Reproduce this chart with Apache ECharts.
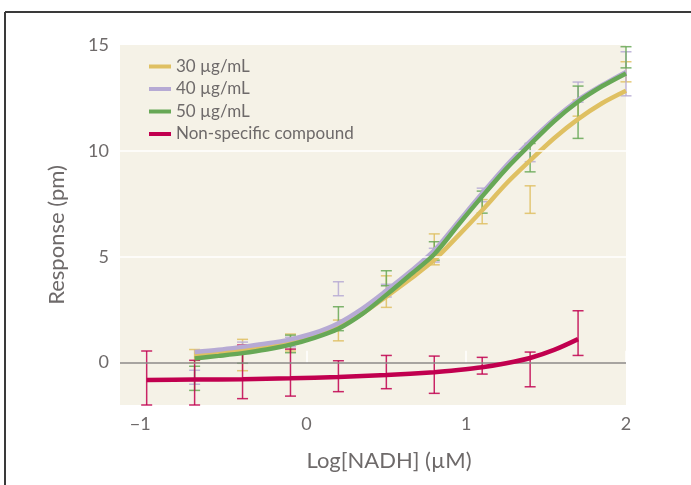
<!DOCTYPE html>
<html>
<head>
<meta charset="utf-8">
<script src="https://cdn.jsdelivr.net/npm/echarts@6/dist/echarts.min.js"></script>
<style>
html,body{margin:0;padding:0;background:#fff;}
#c{width:691px;height:485px;}
</style>
</head>
<body>
<div id="c"></div>
<script>
// ---- data ----
const seriesNames = ['30 µg/mL', '40 µg/mL', '50 µg/mL', 'Non-specific compound'];

// fitted curves
const xFit = [-0.7, -0.55, -0.4, -0.25, -0.1, 0.05, 0.2, 0.35, 0.5, 0.65, 0.8, 0.95, 1.1, 1.25, 1.4, 1.55, 1.7, 1.85, 2.0];
const fit30 = [0.36, 0.47, 0.60, 0.76, 0.95, 1.25, 1.68, 2.32, 3.12, 3.95, 4.85, 6.00, 7.20, 8.45, 9.55, 10.60, 11.50, 12.25, 12.84];
const fit40 = [0.50, 0.61, 0.75, 0.90, 1.10, 1.40, 1.86, 2.55, 3.40, 4.30, 5.30, 6.65, 8.00, 9.30, 10.45, 11.50, 12.40, 13.10, 13.73];
const fit50 = [0.20, 0.32, 0.45, 0.62, 0.85, 1.17, 1.60, 2.30, 3.20, 4.15, 5.12, 6.50, 7.85, 9.15, 10.30, 11.40, 12.32, 13.05, 13.66];
const xFitRed = [-1, -0.7, -0.4, -0.1, 0.2, 0.5, 0.8, 0.95, 1.1, 1.25, 1.4, 1.55, 1.7];
const fitRed = [-0.82, -0.80, -0.78, -0.74, -0.68, -0.58, -0.45, -0.35, -0.22, -0.03, 0.22, 0.60, 1.11];

// measured points: x positions and error bars [low, high]
const xPts = [-0.7, -0.4, -0.1, 0.2, 0.5, 0.8, 1.1, 1.4, 1.7, 2.0];
const xRed = [-1, -0.7, -0.4, -0.1, 0.2, 0.5, 0.8, 1.1, 1.4, 1.7];
const err30 = [[0.0,0.62],[-0.38,1.10],[0.55,1.35],[1.03,2.01],[2.61,4.10],[4.62,6.08],[6.56,7.70],[7.05,8.35],[11.64,12.40],[13.26,14.21]];
const err40 = [[-1.02,-0.36],[0.60,0.97],[0.75,1.20],[3.16,3.82],[3.10,3.70],[4.75,5.40],[7.60,8.24],[9.49,10.00],[12.30,13.25],[12.60,14.68]];
const err50 = [[-1.31,-0.17],[-0.03,0.63],[0.47,1.30],[1.51,2.64],[3.63,4.34],[4.84,5.71],[7.06,8.10],[9.01,10.35],[10.59,13.06],[13.92,14.92]];
const errRed = [[-2.0,0.55],[-2.0,0.11],[-1.70,0.83],[-1.58,0.64],[-1.37,0.09],[-1.23,0.34],[-1.45,0.31],[-0.54,0.25],[-1.14,0.50],[0.34,2.45]];

const xTicks = [-1, 0, 1, 2];
const yTicks = [0, 5, 10, 15];
const gridLines = [5, 10];

// ---- styles ----
const colors = ['#dfc062', '#b6aad4', '#67a856', '#c1004f'];
const FONT = 'Lato';
const txt = '#6e6a6a';

function pairs(xs, ys){ return xs.map((x,i)=>[x, ys[i]]); }
function errData(xs, e){ return xs.map((x,i)=>[x, e[i][0], e[i][1]]); }

function errRenderer(color){
  return function(params, api){
    const x = api.value(0), lo = api.value(1), hi = api.value(2);
    const a = api.coord([x, lo]), b = api.coord([x, hi]);
    const hw = 5.5;
    const st = () => ({stroke: color, lineWidth: 1.5, opacity: 0.85});
    return {type:'group', children:[
      {type:'line', shape:{x1:a[0], y1:a[1], x2:b[0], y2:b[1]}, style: st()},
      {type:'line', shape:{x1:a[0]-hw, y1:a[1], x2:a[0]+hw, y2:a[1]}, style: st()},
      {type:'line', shape:{x1:b[0]-hw, y1:b[1], x2:b[0]+hw, y2:b[1]}, style: st()}
    ]};
  };
}

const fits = [pairs(xFit, fit30), pairs(xFit, fit40), pairs(xFit, fit50), pairs(xFitRed, fitRed)];
const errs = [errData(xPts, err30), errData(xPts, err40), errData(xPts, err50), errData(xRed, errRed)];

const series = [];
series.push({
  type:'line', data:[], silent:true, z:1,
  markLine:{
    silent:true, symbol:'none', label:{show:false},
    data: gridLines.map(v=>({yAxis:v, lineStyle:{color:'#ffffff', width:1.5, type:'solid'}}))
      .concat([{yAxis:0, lineStyle:{color:'#8c8a88', width:1.5, type:'solid'}}])
  }
});
for (let i=0;i<4;i++){
  series.push({
    type:'custom', name: seriesNames[i] + ' error', renderItem: errRenderer(colors[i]),
    data: errs[i], z: 2, clip:false, silent:true
  });
}
for (let i=0;i<4;i++){
  series.push({
    type:'line', name: seriesNames[i], data: fits[i], smooth:0.3, showSymbol:false,
    symbol:'none', lineStyle:{color: colors[i], width:4.5}, itemStyle:{color: colors[i]}, z: 3+i
  });
}

const chart = echarts.init(document.getElementById('c'), null, {renderer:'canvas'});
chart.setOption({
  animation:false,
  backgroundColor:'#ffffff',
  textStyle:{fontFamily: FONT},
  grid:{left:120, right:65, top:45, bottom:80, show:true, backgroundColor:'#f5f2e7', borderWidth:0},
  legend:{
    data: seriesNames, orient:'vertical', left:144, top:53, itemGap:5.5,
    itemWidth:22, itemHeight:4, icon:'rect',
    textStyle:{fontFamily:FONT, fontSize:17, color:txt}
  },
  xAxis:{
    type:'value', min:-1.167, max:2,
    name:'Log[NADH] (µM)', nameLocation:'middle', nameGap:45,
    nameTextStyle:{fontFamily:FONT, fontSize:22, color:txt, padding:[0,0,0,32]},
    axisLine:{show:false},
    axisTick:{show:true, inside:true, length:12, customValues: xTicks, lineStyle:{color:'#ffffff', width:1.5}},
    axisLabel:{customValues: xTicks, fontFamily:FONT, fontSize:18, color:txt, margin:10,
      formatter: v => (v < 0 ? '{neg|\u2212' + Math.abs(v) + '}' : String(v)),
      rich:{neg:{fontFamily:FONT, fontSize:18, color:txt, padding:[0,13,0,0]}}},
    splitLine:{show:false}
  },
  yAxis:{
    type:'value', min:-2, max:15,
    name:'Response (pm)', nameLocation:'middle', nameGap:52,
    nameTextStyle:{fontFamily:FONT, fontSize:22, color:txt, padding:[0,20,0,0]},
    axisLine:{show:false}, axisTick:{show:false},
    axisLabel:{customValues: yTicks, fontFamily:FONT, fontSize:18, color:txt, margin:11},
    splitLine:{show:false}
  },
  graphic:[
    {type:'line', shape:{x1:5, y1:12, x2:691, y2:12}, style:{stroke:'#3a3a3a', lineWidth:2}, silent:true},
    {type:'line', shape:{x1:5, y1:12, x2:5, y2:485}, style:{stroke:'#3a3a3a', lineWidth:2}, silent:true}
  ],
  series: series
});
</script>
</body>
</html>
